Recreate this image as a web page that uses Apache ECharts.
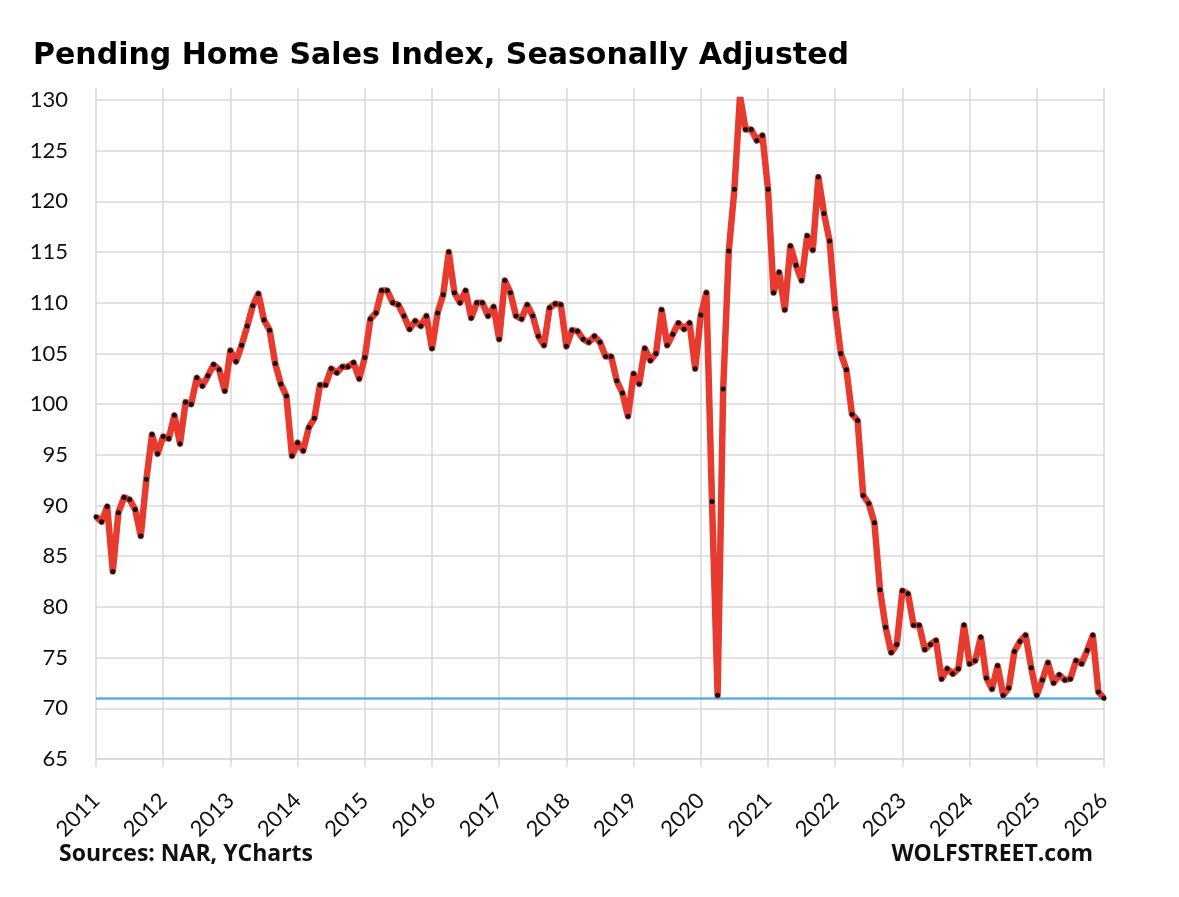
<!DOCTYPE html>
<html>
<head>
<meta charset="utf-8">
<script src="https://cdn.jsdelivr.net/npm/echarts@6/dist/echarts.min.js"></script>
<style>
html,body{margin:0;padding:0;background:#fff;}
#chart{width:1179px;height:897px;}
</style>
</head>
<body>
<div id="chart"></div>
<script>
// ---- Data: Pending Home Sales Index (SA), monthly ----
const years = [2011,2012,2013,2014,2015,2016,2017,2018,2019,2020,2021,2022,2023,2024,2025,2026];
const v2011 = [88.9, 88.4, 89.9, 83.5, 89.3, 90.8, 90.6, 89.6, 87.0, 92.6, 97.0, 95.1];
const v2012 = [96.8, 96.6, 98.9, 96.1, 100.2, 100.0, 102.6, 101.8, 102.8, 103.9, 103.4, 101.3];
const v2013 = [105.3, 104.2, 105.8, 107.7, 109.7, 110.9, 108.3, 107.3, 104.0, 102.0, 100.8, 94.9];
const v2014 = [96.2, 95.4, 97.7, 98.6, 101.9, 101.9, 103.5, 103.1, 103.7, 103.7, 104.1, 102.5];
const v2015 = [104.6, 108.4, 109.0, 111.2, 111.2, 110.0, 109.8, 108.7, 107.4, 108.2, 107.7, 108.7];
const v2016 = [105.5, 109.0, 110.8, 115.0, 111.0, 110.0, 111.2, 108.5, 110.0, 110.0, 108.7, 109.6];
const v2017 = [106.4, 112.2, 111.0, 108.7, 108.4, 109.8, 108.7, 106.7, 105.8, 109.5, 109.9, 109.8];
const v2018 = [105.7, 107.3, 107.2, 106.4, 106.1, 106.7, 106.1, 104.7, 104.7, 102.3, 101.1, 98.8];
const v2019 = [103.0, 102.0, 105.5, 104.3, 105.0, 109.3, 105.8, 106.9, 108.0, 107.4, 108.0, 103.5];
const v2020 = [108.8, 111.0, 90.4, 71.3, 101.5, 115.1, 121.2, 130.4, 127.1, 127.1, 126.0, 126.5];
const v2021 = [121.2, 111.0, 113.0, 109.3, 115.6, 113.7, 112.2, 116.6, 115.2, 122.4, 118.8, 116.1];
const v2022 = [109.4, 105.0, 103.4, 99.0, 98.4, 91.0, 90.2, 88.3, 81.7, 78.0, 75.5, 76.3];
const v2023 = [81.6, 81.3, 78.2, 78.2, 75.8, 76.3, 76.7, 72.9, 73.9, 73.4, 73.9, 78.2];
const v2024 = [74.4, 74.7, 77.0, 73.0, 71.9, 74.2, 71.3, 72.0, 75.6, 76.6, 77.2, 74.0];
const v2025 = [71.3, 72.8, 74.5, 72.5, 73.3, 72.8, 72.9, 74.7, 74.4, 75.7, 77.2, 71.6];
const v2026 = [71.0];
const floorLevel = 71.0;           // horizontal reference line (latest level)
const yTicks = {min: 65, max: 130, step: 5};

const values = [].concat(v2011, v2012, v2013, v2014, v2015, v2016, v2017, v2018,
                         v2019, v2020, v2021, v2022, v2023, v2024, v2025, v2026);
// month categories: one per data point, year label on each January slot
const categories = [];
years.forEach(function (y) {
  for (let m = 1; m <= 12; m++) {
    if (y === 2026 && m > 1) break;
    categories.push(y + '-' + (m < 10 ? '0' + m : m));
  }
});

const FONT = 'Lato, "Open Sans", sans-serif';
const TFONT = '"DejaVu Sans", "Open Sans", sans-serif';
const FFONT = '"Open Sans", Lato, sans-serif';
const GRID = '#d9d9d9';

const chart = echarts.init(document.getElementById('chart'), null, {renderer: 'canvas'});
chart.setOption({
  backgroundColor: '#ffffff',
  animation: false,
  title: {
    text: 'Pending Home Sales Index, Seasonally Adjusted',
    left: 28, top: 36,
    textStyle: {fontFamily: TFONT, fontSize: 30, fontWeight: 'bold', color: '#000'}
  },
  grid: {left: 96, right: 75, top: 100, bottom: 138},
  xAxis: [{
    type: 'category',
    data: categories,
    boundaryGap: false,
    axisLine: {show: true, lineStyle: {color: GRID, width: 1.5}},
    axisTick: {show: true, interval: 11, length: 8, lineStyle: {color: GRID, width: 1.5}},
    splitLine: {show: true, interval: 11, lineStyle: {color: GRID, width: 1.5}},
    axisLabel: {
      interval: 11, rotate: 45, margin: 38,
      fontFamily: FONT, fontSize: 22, color: '#111',
      formatter: function (v) { return v.slice(0, 4); }
    }
  }, {
    type: 'category',
    data: categories,
    boundaryGap: false,
    position: 'top',
    axisLine: {show: false},
    axisLabel: {show: false},
    splitLine: {show: false},
    axisTick: {show: true, interval: 11, length: 12, lineStyle: {color: GRID, width: 1.5}}
  }],
  yAxis: {
    type: 'value',
    min: yTicks.min, max: yTicks.max, interval: yTicks.step,
    axisLine: {show: false},
    axisTick: {show: false},
    splitLine: {show: true, lineStyle: {color: GRID, width: 1.5}},
    axisLabel: {margin: 28, fontFamily: FONT, fontSize: 22, color: '#111'}
  },
  series: [{
    type: 'line',
    data: values,
    xAxisIndex: 0,
    symbol: 'circle',
    symbolSize: 5,
    showSymbol: true,
    showAllSymbol: true,
    itemStyle: {color: '#111'},
    lineStyle: {color: '#e63b2e', width: 6.5, join: 'round'},
    z: 3,
    markLine: {
      silent: true,
      symbol: 'none',
      label: {show: false},
      lineStyle: {color: '#5aaee2', width: 2.5, type: 'solid'},
      data: [{yAxis: floorLevel}],
      z: 2
    }
  }],
  graphic: [{
    type: 'text', left: 59, top: 843,
    style: {text: 'Sources: NAR, YCharts', fontFamily: FFONT, fontSize: 23, fontWeight: 'bold', fill: '#111'}
  }, {
    type: 'text', right: 86, top: 843,
    style: {text: 'WOLFSTREET.com', fontFamily: FFONT, fontSize: 23, fontWeight: 'bold', fill: '#111'}
  }]
});
</script>
</body>
</html>
